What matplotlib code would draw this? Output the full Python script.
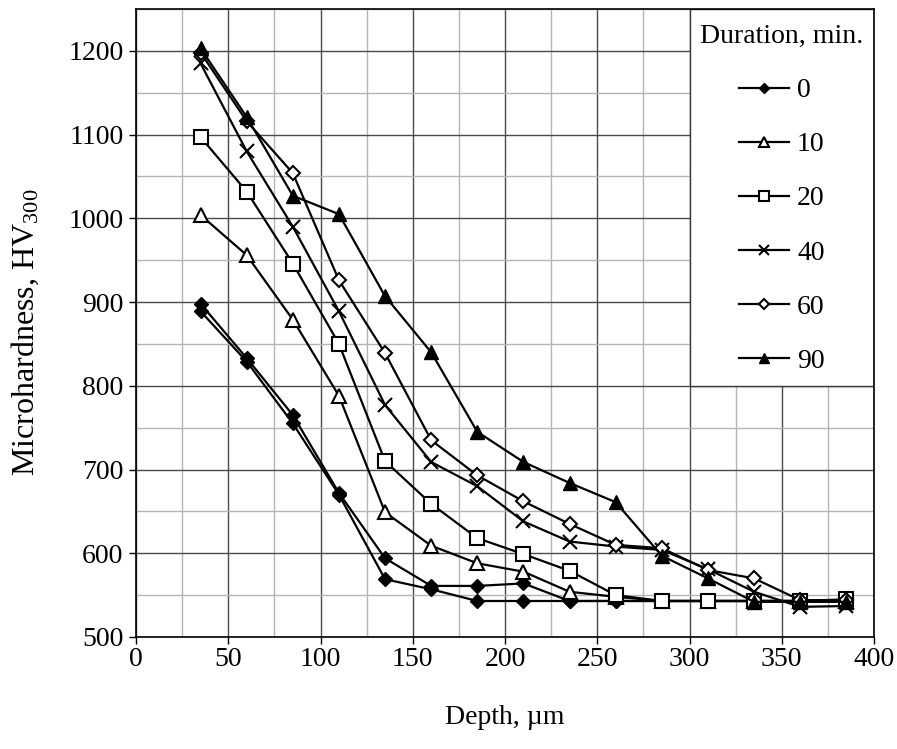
import matplotlib
matplotlib.use('Agg')
import matplotlib.pyplot as plt
from matplotlib.patches import Rectangle
from matplotlib.ticker import MultipleLocator

plt.rcParams['font.family'] = ['Liberation Serif', 'DejaVu Serif']
plt.rcParams['mathtext.fontset'] = 'custom'
plt.rcParams['mathtext.rm'] = 'Liberation Serif'
plt.rcParams['mathtext.it'] = 'Liberation Serif:italic'
plt.rcParams['mathtext.default'] = 'regular'

# ---- data ----
depth = [35, 60, 85, 110, 135, 160, 185, 210, 235, 260, 285, 310, 335, 360, 385]
hv_0a = [898, 833, 765, 672, 594, 561, 561, 564, 543, 543, 543, 543, 543, 543, 543]
hv_0b = [889, 829, 755, 670, 569, 557, 543, 543, 543, 543, 543, 543, 543, 543, 543]
hv_10 = [1004, 956, 879, 788, 649, 609, 588, 578, 554, 548, 543, 543, 543, 543, 543]
hv_20 = [1097, 1032, 946, 850, 710, 659, 618, 599, 579, 550, 543, 543, 543, 543, 545]
hv_40 = [1185, 1080, 990, 889, 777, 709, 680, 638, 614, 608, 604, 581, 554, 536, 537]
hv_60 = [1198, 1116, 1054, 926, 839, 735, 693, 662, 635, 610, 606, 580, 570, 544, 544]
hv_90 = [1203, 1121, 1027, 1005, 907, 840, 745, 709, 684, 661, 597, 570, 542, 542, 542]
durations = ['0', '10', '20', '40', '60', '90']
legend_title = 'Duration, min.'
x_label = 'Depth, µm'
y_label = 'Microhardness, HV$_{300}$'

W, H = 897, 749
fig = plt.figure(figsize=(W / 100, H / 100), dpi=100)
L, R, T, B = 136, 874, 9, 637
ax = fig.add_axes([L / W, 1 - B / H, (R - L) / W, (B - T) / H])
ax.set_xlim(0, 400)
ax.set_ylim(500, 1250)
ax.xaxis.set_major_locator(MultipleLocator(50))
ax.xaxis.set_minor_locator(MultipleLocator(25))
ax.yaxis.set_major_locator(MultipleLocator(100))
ax.yaxis.set_minor_locator(MultipleLocator(50))
ax.set_axisbelow(True)
ax.grid(which='major', color='#4a4a4a', lw=1.0)
ax.grid(which='minor', color='#b4b4b4', lw=1.0)
ax.tick_params(which='major', direction='out', length=5, width=1, labelsize=20, color='black')
ax.tick_params(axis='x', which='major', pad=2)
ax.tick_params(axis='y', which='major', pad=4)
ax.tick_params(which='minor', length=0)
for s in ax.spines.values():
    s.set_color('black')
    s.set_linewidth(1.2)

# legend panel
ax.add_patch(Rectangle((300, 800), 100, 450, facecolor='white', edgecolor='#3a3a3a',
                       lw=1.0, zorder=1.5))

styles = [
    dict(marker='D', ms=7.5, mfc='black', mec='black'),
    dict(marker='^', ms=10, mfc='white', mec='black', mew=1.5),
    dict(marker='s', ms=10, mfc='white', mec='black', mew=1.5),
    dict(marker='x', ms=10, mec='black', mew=1.5),
    dict(marker='D', ms=7, mfc='white', mec='black', mew=1.5),
    dict(marker='^', ms=10, mfc='black', mec='black'),
]
series = [hv_0a, hv_10, hv_20, hv_40, hv_60, hv_90]
handles = []
ax.plot(depth, hv_0b, color='black', lw=1.6, zorder=2, **styles[0])
for vals, st, lab in zip(series, styles, durations):
    h, = ax.plot(depth, vals, color='black', lw=1.6, zorder=2, label=lab, **st)
    handles.append(h)

leg = ax.legend(handles, durations, title=legend_title, loc='upper center',
                bbox_to_anchor=(350, 1250), bbox_transform=ax.transData,
                frameon=False, fontsize=20, title_fontsize=20,
                handlelength=1.8, handletextpad=0.3, labelspacing=1.03,
                borderpad=0.55, borderaxespad=0, markerscale=0.7)
leg.set_zorder(5)

fig.text(25 / W, 1 - 332 / H, y_label, rotation=90, ha='center', va='center', fontsize=23)
fig.text(505 / W, 1 - 718 / H, x_label, ha='center', va='center', fontsize=20)

fig.savefig('out.png', dpi=100)
